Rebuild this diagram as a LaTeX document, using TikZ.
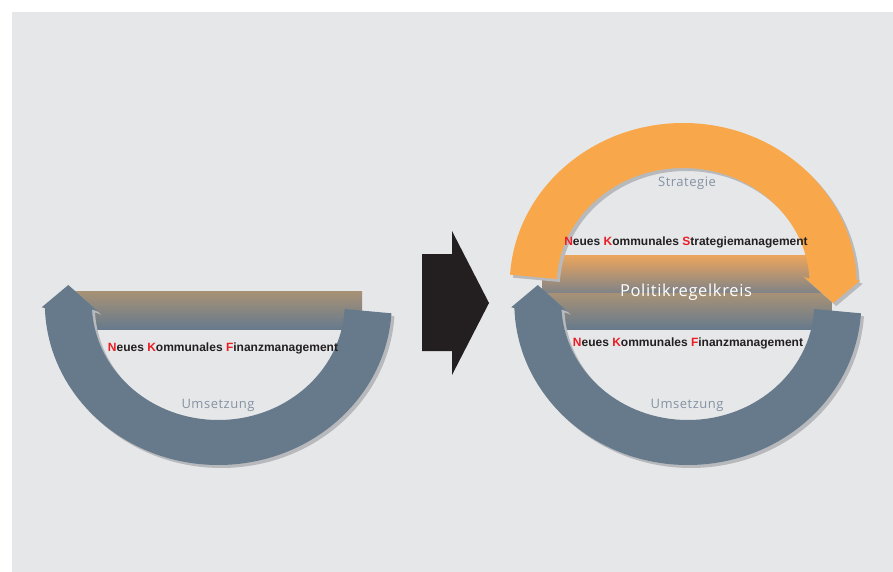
\documentclass[tikz,border=0pt]{standalone}
\usepackage{fontspec}
\setmainfont{Liberation Sans}
\newfontfamily\softfont[LetterSpace=4]{Open Sans}
\definecolor{panel}{HTML}{E6E7E9}
\definecolor{slate}{HTML}{677A8C}
\definecolor{amber}{HTML}{F8A84A}
\definecolor{shade}{HTML}{B7B9BC}
\definecolor{tan}{HTML}{A89276}
\definecolor{amberfade}{HTML}{ECA55C}
\definecolor{greyfade}{HTML}{7F8388}
\definecolor{ink}{HTML}{231F20}
\definecolor{signal}{HTML}{ED1C24}
\definecolor{caption}{HTML}{8492A3}
\newcommand\hl[1]{\textcolor{signal}{#1}}
\tikzset{
  % U-shaped band ending in a small arrow head, centred on its ellipse
  pics/loopband/.style={code={
    \path[pic actions]
      (178.2:173.5 and 162)
      arc[start angle=178.2, end angle=3.65, x radius=173.5, y radius=162]
      -- (2.94:126.5 and 117)
      arc[start angle=2.94, end angle=176.9, x radius=126.5, y radius=117]
      -- (-120,8.7) -- (-150,-18) -- (-176.6,4.3) -- cycle;
  }},
  title/.style={font=\bfseries\fontsize{12}{14}\selectfont, text=ink, inner sep=0pt},
  soft/.style={font=\softfont\fontsize{13}{15}\selectfont, text=caption, inner sep=0pt},
  banner/.style={font=\softfont\fontsize{16.5}{19}\selectfont, text=white, inner sep=0pt},
}
\begin{document}
\begin{tikzpicture}[x=1pt,y=-1pt]
\useasboundingbox (0,0) rectangle (893,572);
\fill[white] (0,0) rectangle (893,572);
\fill[panel] (12,12) rectangle (893,572);

% gradient bars behind the bands
\shade[top color=tan, bottom color=slate] (75,291) rectangle (362,329);
\shade[top color=amberfade, bottom color=greyfade] (542,255) rectangle (831.5,293);
\shade[top color=tan, bottom color=slate] (542,293) rectangle (831.5,329);

% bands with their drop shadows
\pic[fill=shade] at (221.3,306) {loopband};
\pic[fill=shade] at (690.8,306) {loopband};
\pic[fill=shade, rotate=180] at (686.2,288) {loopband};
\pic[fill=slate] at (218.3,303) {loopband};
\pic[fill=slate] at (687.8,303) {loopband};
\pic[fill=amber, rotate=180] at (683.2,285) {loopband};

% transition arrow
\fill[ink] (422,254) -- (452,254) -- (452,231) -- (489,303)
  -- (452,375) -- (452,351) -- (422,351) -- cycle;

% labels
\node[title] (nkfA) at (223,348) {\hl{N}eues \hl{K}ommunales \hl{F}inanzmanagement};
\node[soft] (useA) at (218,405) {Umsetzung};
\node[title] (nks) at (686,242) {\hl{N}eues \hl{K}ommunales \hl{S}trategiemanagement};
\node[soft] (strat) at (687,183) {Strategie};
\node[banner] (prk) at (686,292) {Politikregelkreis};
\node[title] (nkfB) at (688,343) {\hl{N}eues \hl{K}ommunales \hl{F}inanzmanagement};
\node[soft] (useB) at (687,405) {Umsetzung};
\end{tikzpicture}
\end{document}
